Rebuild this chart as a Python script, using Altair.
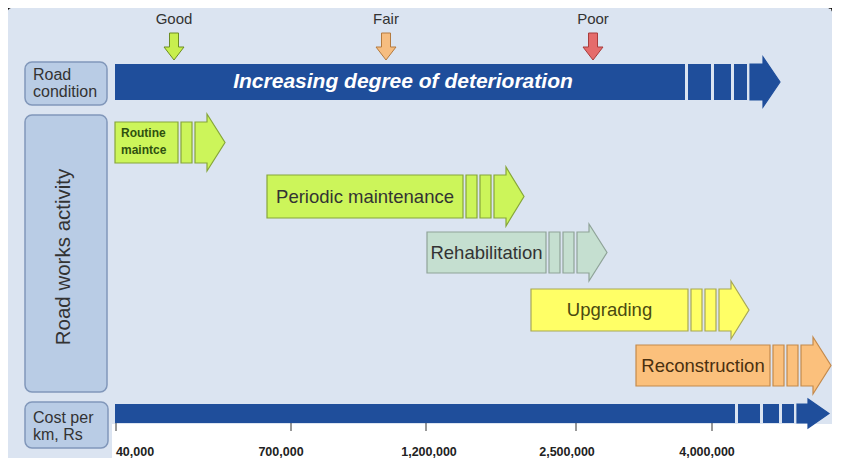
import altair as alt
import pandas as pd

# ---------------- data ----------------
condition_labels = ["Good", "Fair", "Poor"]
condition_pos = [174, 386, 593]
condition_fill = ["#c8ef4e", "#f6bd80", "#e56b6b"]
condition_edge = ["#6d8e22", "#b47a3e", "#a83c3c"]

activity_names = ["Routine\nmaintce", "Periodic maintenance", "Rehabilitation", "Upgrading", "Reconstruction"]
activity_start = [115, 267, 427, 531, 636]
activity_end = [178, 463, 546, 688, 770]
activity_top = [122, 175, 232, 289, 345]
activity_bottom = [163, 218, 273, 331, 386]
activity_tail_segments = [1, 2, 2, 2, 2]
activity_fill = ["#ccf55a", "#ccf55a", "#c5dfd0", "#ffff66", "#fbc07c"]
activity_edge = ["#86a63a", "#86a63a", "#8fa398", "#a8a855", "#c48a4c"]
activity_text_color = ["#2f5010", "#333333", "#333333", "#4a4a10", "#4a3010"]

road_piece_start = [115, 688, 714, 734]
road_piece_end = [685, 711, 731, 747]
road_body = [750, 763]
road_tip = 780

cost_piece_start = [115, 738, 763, 782]
cost_piece_end = [735, 760, 779, 794]
cost_body = [797, 808]
cost_tip = 829

cost_labels = ["40,000", "700,000", "1,200,000", "2,500,000", "4,000,000"]
cost_tick_pos = [116, 291, 426, 576, 712]
cost_label_pos = [135, 281, 429, 567, 707]

# ---------------- layout ----------------
W, H = 824, 450
XS = alt.Scale(domain=[8, 8 + W], range=[0, W], nice=False, zero=False)
YS = alt.Scale(domain=[8, 8 + H], range=[0, H], nice=False, zero=False)
BLUE = "#1f4e9b"
FONT = "Liberation Sans"


def X(f):
    return alt.X(f, type="quantitative", scale=XS, axis=None)


def Y(f):
    return alt.Y(f, type="quantitative", scale=YS, axis=None, stack=False)


def rect_layer(df, **kw):
    enc = dict(x=X("x0"), x2="x1", y=Y("y0"), y2="y1")
    if "fill" in df.columns:
        enc["fill"] = alt.Fill("fill:N", scale=None)
    if "stroke" in df.columns:
        enc["stroke"] = alt.Stroke("stroke:N", scale=None)
    return alt.Chart(df).mark_rect(**kw).encode(**enc)


def arrow_head(body_start, head_base, tip, top, bottom, flare, fill, edge):
    """Body + head outline as an SVG symbol path (1 unit = 1 px at size 4)."""
    hh = (bottom - top) / 2
    bl = head_base - body_start
    ln = tip - head_base
    path = (f"M0,{-hh}L{bl},{-hh}L{bl},{-(hh + flare)}L{bl + ln},0"
            f"L{bl},{hh + flare}L{bl},{hh}L0,{hh}Z")
    return dict(x=body_start, y=(top + bottom) / 2, path=path, fill=fill, stroke=edge)


# background panel and footer
panel = pd.DataFrame({"x0": [4], "x1": [835], "y0": [6], "y1": [463]})
footer = pd.DataFrame({"x0": [112], "x1": [836], "y0": [424], "y1": [463]})
layers = [
    rect_layer(panel, cornerRadius=14, fill="#dbe4f1"),
    rect_layer(footer, fill="#ffffff"),
]

# left label boxes
boxes = pd.DataFrame({"x0": [25, 25, 25], "x1": [107, 107, 108],
                      "y0": [62, 115, 402], "y1": [105, 392, 448]})
layers.append(rect_layer(boxes, cornerRadius=7, fill="#b9cce5", stroke="#8197ba", strokeWidth=1.5))

# blue bars
blue = pd.DataFrame({
    "x0": road_piece_start + cost_piece_start,
    "x1": road_piece_end + cost_piece_end,
    "y0": [64] * len(road_piece_start) + [404] * len(cost_piece_start),
    "y1": [100] * len(road_piece_start) + [423] * len(cost_piece_start),
})
layers.append(rect_layer(blue, fill=BLUE))
heads = [
    arrow_head(road_body[0], road_body[1], road_tip, 64, 100, 7, BLUE, BLUE),
    arrow_head(cost_body[0], cost_body[1], cost_tip, 404, 423, 5, BLUE, BLUE),
]

# activity arrows
act_rects = []
for i, name in enumerate(activity_names):
    s, e, t, b = activity_start[i], activity_end[i], activity_top[i], activity_bottom[i]
    act_rects.append(dict(x0=s, x1=e, y0=t, y1=b, fill=activity_fill[i], stroke=activity_edge[i]))
    x = e + 3
    for _ in range(activity_tail_segments[i]):
        act_rects.append(dict(x0=x, x1=x + 11, y0=t, y1=b, fill=activity_fill[i], stroke=activity_edge[i]))
        x += 14
    heads.append(arrow_head(x, x + 12, x + 30, t, b, 8, activity_fill[i], activity_edge[i]))

layers.append(rect_layer(pd.DataFrame(act_rects), strokeWidth=1.2))
layers.append(
    alt.Chart(pd.DataFrame(heads)).mark_point(size=4, filled=True, opacity=1, strokeWidth=1.2).encode(
        x=X("x"), y=Y("y"),
        shape=alt.Shape("path:N", scale=None),
        fill=alt.Fill("fill:N", scale=None), stroke=alt.Stroke("stroke:N", scale=None),
    )
)

# condition down-arrows
cond = pd.DataFrame({"label": condition_labels, "pos": condition_pos,
                     "fill": condition_fill, "edge": condition_edge,
                     "ty": [19] * 3, "ay": [46] * 3})
arrow_path = "M-0.45,-1.3L0.45,-1.3L0.45,0.1L1,0.1L0,1.4L-1,0.1L-0.45,0.1Z"
layers.append(
    alt.Chart(cond).mark_point(shape=arrow_path, size=400, filled=True, opacity=1, strokeWidth=1).encode(
        x=X("pos"), y=Y("ay"),
        fill=alt.Fill("fill:N", scale=None), stroke=alt.Stroke("edge:N", scale=None),
    )
)
layers.append(
    alt.Chart(cond).mark_text(font=FONT, fontSize=15, color="#333333").encode(
        x=X("pos"), y=Y("ty"), text="label:N")
)

# cost ticks and labels
costs = pd.DataFrame({"label": cost_labels, "tick": cost_tick_pos, "lx": cost_label_pos,
                      "t0": [423] * 5, "t1": [431] * 5, "ly": [452] * 5})
layers.append(alt.Chart(costs).mark_rule(color="#333333", strokeWidth=1).encode(
    x=X("tick"), y=Y("t0"), y2="t1"))
layers.append(alt.Chart(costs).mark_text(font=FONT, fontSize=12.5, fontWeight="bold", color="#222222").encode(
    x=X("lx"), y=Y("ly"), text="label:N"))

# left labels (y = first line)
left = pd.DataFrame({"text": ["Road\ncondition", "Cost per\nkm, Rs"], "x": [33, 33], "y": [75, 418]})
layers.append(alt.Chart(left).mark_text(font=FONT, fontSize=16, align="left", lineBreak="\n",
                                        lineHeight=17, color="#333333").encode(
    x=X("x"), y=Y("y"), text="text:N"))
side = pd.DataFrame({"text": ["Road works activity"], "x": [64], "y": [257]})
layers.append(alt.Chart(side).mark_text(font=FONT, fontSize=20.5, angle=270, color="#333333").encode(
    x=X("x"), y=Y("y"), text="text:N"))

banner = pd.DataFrame({"text": ["Increasing degree of deterioration"], "x": [403], "y": [82]})
layers.append(alt.Chart(banner).mark_text(font=FONT, fontSize=21, fontWeight="bold", fontStyle="italic",
                                          color="#ffffff").encode(x=X("x"), y=Y("y"), text="text:N"))

# activity labels
act_lab = pd.DataFrame({
    "text": activity_names[1:],
    "x": [(activity_start[i] + activity_end[i]) / 2 for i in range(1, 5)],
    "y": [(activity_top[i] + activity_bottom[i]) / 2 for i in range(1, 5)],
    "c": activity_text_color[1:],
})
layers.append(alt.Chart(act_lab).mark_text(font=FONT, fontSize=18.5).encode(
    x=X("x"), y=Y("y"), text="text:N", color=alt.Color("c:N", scale=None)))
routine = pd.DataFrame({"text": [activity_names[0]], "x": [activity_start[0] + 6],
                        "y": [133], "c": [activity_text_color[0]]})
layers.append(alt.Chart(routine).mark_text(font=FONT, fontSize=12, fontWeight="bold", align="left",
                                           lineBreak="\n", lineHeight=17).encode(
    x=X("x"), y=Y("y"), text="text:N", color=alt.Color("c:N", scale=None)))

chart = alt.layer(*layers).properties(
    width=W, height=H, padding=0, autosize=alt.AutoSizeParams(type="none"),
    background="#ffffff",
).configure_view(stroke="#000000", strokeWidth=1.5)

chart.save("out.html", embed_options={"renderer": "svg", "actions": False})
